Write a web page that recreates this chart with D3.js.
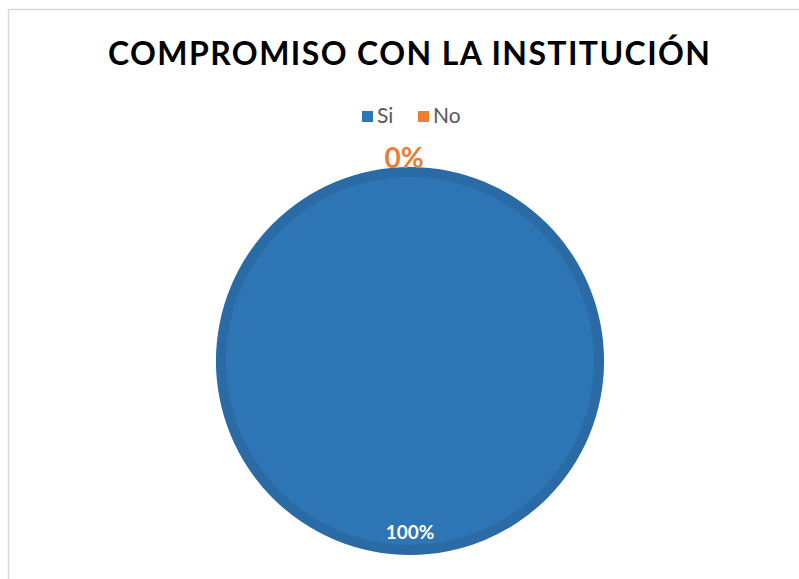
<!DOCTYPE html>
<html>
<head>
<meta charset="utf-8">
<script src="https://cdn.jsdelivr.net/npm/d3@7"></script>
<style>
  body { margin: 0; background: #fff; }
  svg { display: block; font-family: Lato, "Open Sans", sans-serif; }
</style>
</head>
<body>
<div id="chart"></div>
<script>
var categories = ['Si', 'No'];
var values = [100, 0];
var labels = ['100%', '0%'];
var colors = ['#2E75B6', '#ED7D31'];

var W = 799, H = 579;
var cx = 410, cy = 361, r = 194;

var svg = d3.select('#chart').append('svg').attr('width', W).attr('height', H);

// chart area border
svg.append('path')
  .attr('d', 'M8.5,' + H + 'V9.5H' + W)
  .attr('fill', 'none').attr('stroke', '#d9d9d9').attr('stroke-width', 1.5);

svg.append('text')
  .attr('x', 409).attr('y', 65)
  .attr('text-anchor', 'middle')
  .attr('font-size', 32).attr('font-weight', 700)
  .attr('textLength', 602).attr('lengthAdjust', 'spacing')
  .attr('fill', '#000')
  .text('COMPROMISO CON LA INSTITUCIÓN');

// legend
var legX = [362, 418];
var leg = svg.selectAll('g.leg').data(categories).enter().append('g')
  .attr('class', 'leg')
  .attr('transform', function (d, i) { return 'translate(' + legX[i] + ',111)'; });
leg.append('rect').attr('width', 11).attr('height', 11)
  .attr('fill', function (d, i) { return colors[i]; });
leg.append('text').attr('x', 15).attr('y', 12)
  .attr('font-size', 21).attr('fill', '#595959')
  .text(function (d) { return d; });

// pie
var pie = d3.pie().sort(null).value(function (d) { return d; });
var arcs = pie(values);
var outer = d3.arc().innerRadius(0).outerRadius(r);
var inner = d3.arc().innerRadius(0).outerRadius(r - 10);

var g = svg.append('g').attr('transform', 'translate(' + cx + ',' + cy + ')');
g.selectAll('path.rim').data(arcs).enter().append('path')
  .attr('class', 'rim')
  .attr('d', outer)
  .attr('fill', function (d, i) { return d3.color(colors[i]).darker(0.25); });
g.selectAll('path.face').data(arcs).enter().append('path')
  .attr('class', 'face')
  .attr('d', inner)
  .attr('fill', function (d, i) { return colors[i]; });

// data labels
svg.append('text')
  .attr('x', 410).attr('y', 539)
  .attr('text-anchor', 'middle')
  .attr('font-size', 19).attr('font-weight', 700).attr('fill', '#fff')
  .text(labels[0]);
svg.append('text')
  .attr('x', 404).attr('y', 168)
  .attr('text-anchor', 'middle')
  .attr('font-size', 28).attr('font-weight', 700).attr('fill', colors[1])
  .text(labels[1]);
</script>
</body>
</html>
